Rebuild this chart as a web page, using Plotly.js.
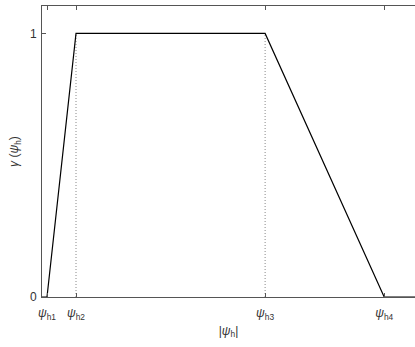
<!DOCTYPE html>
<html>
<head>
<meta charset="utf-8">
<script src="https://cdn.plot.ly/plotly-3.0.1.min.js"></script>
<style>
html,body{margin:0;padding:0;overflow:hidden;background:#fff;}
#chart{width:415px;height:347px;}
</style>
</head>
<body>
<div id="chart"></div>
<script>
// knot positions along |psi_h| (normalised so psi_h4 = 1)
const psiKnots = [0, 0.0146, 0.0994, 0.652, 1.0, 1.09];
const gammaVals = [0, 0, 1, 1, 0, 0];
// tick positions and labels
const xTickVals = [0.0146, 0.0994, 0.652, 1.0];
const xTickText = ['<i>ψ</i><sub>h1</sub>', '<i>ψ</i><sub>h2</sub>', '<i>ψ</i><sub>h3</sub>', '<i>ψ</i><sub>h4</sub>'];
const yTickVals = [0, 1];
const yTickText = ['0', '1'];
// dotted guide lines at psi_h2 and psi_h3
const guideX = [0.0994, 0.652];
const guideY = [0, 1];

const traces = [];
guideX.forEach(function (gx) {
  traces.push({
    x: [gx, gx], y: guideY, mode: 'lines', type: 'scatter',
    line: {color: '#888', width: 1, dash: '1px,2px'},
    hoverinfo: 'skip', showlegend: false
  });
});
traces.push({
  x: psiKnots, y: gammaVals, mode: 'lines', type: 'scatter',
  line: {color: '#000', width: 1.2},
  cliponaxis: false, showlegend: false
});

const layout = {
  width: 415, height: 347,
  margin: {l: 42, r: 0, t: 6, b: 50},
  paper_bgcolor: '#fff', plot_bgcolor: '#fff',
  font: {family: 'Liberation Sans, Arial, sans-serif', size: 12, color: '#333'},
  showlegend: false,
  xaxis: {
    range: [0, 1.09], showgrid: false, zeroline: false,
    showline: true, linecolor: '#555', linewidth: 1, mirror: 'ticks',
    ticks: 'inside', ticklen: 4, tickcolor: '#555',
    tickmode: 'array', tickvals: xTickVals, ticktext: xTickText,
    ticklabelstandoff: 5,
    tickfont: {size: 12, color: '#333'},
    title: {text: '|<i>ψ</i><sub>h</sub>|', font: {size: 12, color: '#333'}, standoff: 5}
  },
  yaxis: {
    range: [0, 1.104], showgrid: false, zeroline: false,
    showline: true, linecolor: '#555', linewidth: 1,
    ticks: 'inside', ticklen: 4, tickcolor: '#555',
    tickmode: 'array', tickvals: yTickVals, ticktext: yTickText,
    ticklabelstandoff: 2,
    tickfont: {size: 12, color: '#333'},
    title: {text: '<i>γ</i> (<i>ψ</i><sub>h</sub>)', font: {size: 12, color: '#333'}, standoff: 8}
  }
};

Plotly.newPlot('chart', traces, layout, {displayModeBar: false, staticPlot: true});
</script>
</body>
</html>
